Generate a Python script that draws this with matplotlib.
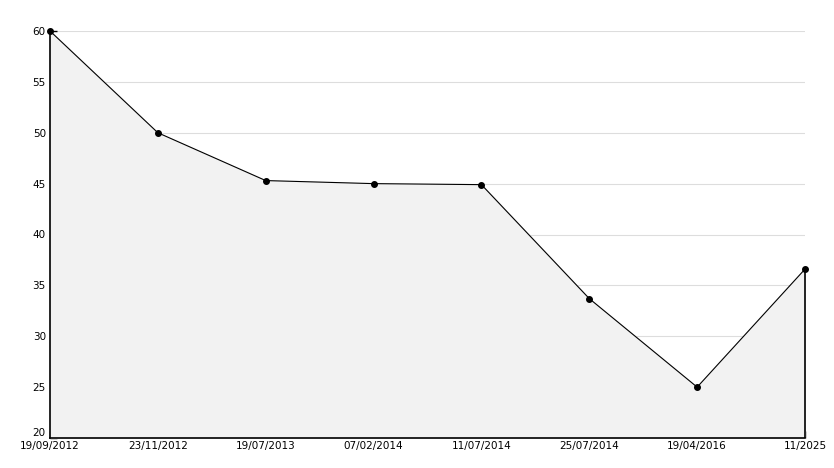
import numpy as np
import matplotlib
matplotlib.use('Agg')
from matplotlib import pyplot as plt
from matplotlib.ticker import MultipleLocator

dates = ['19/09/2012', '23/11/2012', '19/07/2013', '07/02/2014',
         '11/07/2014', '25/07/2014', '19/04/2016', '11/2025']
values = [60, 50, 45.3, 45.0, 44.9, 33.7, 25.0, 36.6]
yticks = [20, 25, 30, 35, 40, 45, 50, 55, 60]

x = np.arange(len(dates))

fig = plt.figure(figsize=(8.34, 4.68), dpi=100)
ax = fig.add_axes([50 / 834, 1 - 438 / 468, 755 / 834, 407 / 468])

ax.fill_between(x, values, 20, color='#f2f2f2', zorder=1)
ax.vlines(x[-1], 20, values[-1], color='black', lw=1.2, zorder=3,
          clip_on=False)
ax.plot(x, values, color='black', lw=0.8, marker='o', ms=4, zorder=6,
        clip_on=False)

ax.set_xlim(0, len(dates) - 1)
ax.set_ylim(20, 60)
ax.set_yticks(yticks)
ax.set_yticklabels([str(v) for v in yticks])
ax.yaxis.set_minor_locator(MultipleLocator(1))
ax.set_xticks(x)
ax.set_xticklabels(dates)

ax.grid(axis='y', which='major', color='#dddddd', lw=0.8, zorder=0)
ax.set_axisbelow(True)

for s in ['top', 'right']:
    ax.spines[s].set_visible(False)
for s in ['left', 'bottom']:
    ax.spines[s].set_linewidth(1.2)
    ax.spines[s].set_zorder(5)

ax.tick_params(axis='both', direction='in', length=5, width=1, labelsize=7.5,
               colors='black', pad=3)
ax.tick_params(axis='y', which='minor', direction='in', length=4, width=1,
               left=True)
ax.tick_params(axis='x', pad=2)

# the bottom value label sits a bit higher, clear of the first date
ax.get_yticklabels()[0].set_va('bottom')

fig.savefig('out.png', dpi=100)
